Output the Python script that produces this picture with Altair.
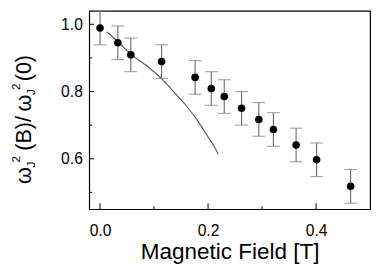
import altair as alt
import pandas as pd

# measured data points
field_T = [0.0, 0.033, 0.057, 0.114, 0.176, 0.206, 0.230, 0.262, 0.294, 0.321, 0.363, 0.401, 0.464]
ratio = [0.989, 0.945, 0.909, 0.889, 0.842, 0.809, 0.785, 0.750, 0.717, 0.687, 0.641, 0.597, 0.518]
err = [0.05, 0.05, 0.05, 0.05, 0.05, 0.05, 0.05, 0.05, 0.05, 0.05, 0.05, 0.05, 0.05]

# theory curve
curve_T = [0.013, 0.035, 0.057, 0.085, 0.112, 0.136, 0.160, 0.180, 0.200, 0.212, 0.219]
curve_r = [0.977, 0.945, 0.911, 0.878, 0.841, 0.800, 0.757, 0.715, 0.665, 0.635, 0.613]

x_major = [0.0, 0.2, 0.4]
x_minor = [0.1, 0.3]
y_major = [0.6, 0.8, 1.0]
y_minor = [0.5, 0.7, 0.9]

W, H = 287, 202.7
FONT = "Liberation Sans"

pts = pd.DataFrame({"B": field_T, "r": ratio, "e": err})
pts["lo"] = pts["r"] - pts["e"]
pts["hi"] = pts["r"] + pts["e"]
crv = pd.DataFrame({"B": curve_T, "r": curve_r})

xs = alt.Scale(domain=[-0.02, 0.5], nice=False, zero=False)
ys = alt.Scale(domain=[0.45, 1.04], nice=False, zero=False)

xax = alt.Axis(values=x_major, format=".1f", ticks=False, tickSize=0, domain=False,
               grid=False, labelFontSize=16, labelFont=FONT, labelColor="black",
               labelPadding=14, title=None)
yax = alt.Axis(values=y_major, format=".1f", ticks=False, tickSize=0, domain=False,
               grid=False, labelFontSize=16, labelFont=FONT, labelColor="black",
               labelPadding=7, title=None)

base_x = alt.X("B:Q", scale=xs, axis=xax)
base_y = alt.Y("r:Q", scale=ys, axis=yax)

curve = alt.Chart(crv).mark_line(color="#555555", strokeWidth=1.1, interpolate="monotone").encode(
    x=base_x, y=base_y)

bars = alt.Chart(pts).mark_rule(color="#666666", strokeWidth=1.1).encode(
    x=alt.X("B:Q", scale=xs), y=alt.Y("lo:Q", scale=ys), y2="hi:Q")
cap_lo = alt.Chart(pts).mark_tick(color="#777777", orient="horizontal", size=13, thickness=1.1).encode(
    x=alt.X("B:Q", scale=xs), y=alt.Y("lo:Q", scale=ys))
cap_hi = alt.Chart(pts).mark_tick(color="#777777", orient="horizontal", size=13, thickness=1.1).encode(
    x=alt.X("B:Q", scale=xs), y=alt.Y("hi:Q", scale=ys))
dots = alt.Chart(pts).mark_circle(color="black", opacity=1, size=60).encode(
    x=alt.X("B:Q", scale=xs), y=alt.Y("r:Q", scale=ys))

def xticks(vals, ln):
    return alt.Chart(pd.DataFrame({"B": vals})).mark_rule(color="black", strokeWidth=1).encode(
        x=alt.X("B:Q", scale=xs), y=alt.value(H), y2=alt.value(H - ln))

def yticks(vals, ln):
    return alt.Chart(pd.DataFrame({"r": vals})).mark_rule(color="black", strokeWidth=1).encode(
        y=alt.Y("r:Q", scale=ys), x=alt.value(0), x2=alt.value(ln))

# titles as text pieces
x_title = alt.Chart(pd.DataFrame({"t": ["Magnetic Field [T]"]})).mark_text(
    font=FONT, fontSize=23, align="center", baseline="alphabetic", color="black").encode(
    text="t:N", x=alt.value(144), y=alt.value(253.7))

def ypiece(txt, ystart, xbase, size):
    return alt.Chart(pd.DataFrame({"t": [txt]})).mark_text(
        font=FONT, fontSize=size, align="left", baseline="alphabetic", angle=270, color="black").encode(
        text="t:N", x=alt.value(xbase), y=alt.value(ystart))

main_x = -60
sub_x = -55.5
sup_x = -71
y_title = [
    ypiece("\u03c9", 185 - 8, main_x, 22),
    ypiece("J", 168 - 8, sub_x, 12),
    ypiece("2", 163 - 8, sup_x, 12),
    ypiece("(B)/", 151 - 8, main_x, 22),
    ypiece("\u03c9", 111 - 8, main_x, 22),
    ypiece("J", 94 - 8, sub_x, 12),
    ypiece("2", 89 - 8, sup_x, 12),
    ypiece("(0)", 80 - 8, main_x, 22),
]

chart = alt.layer(
    curve, bars, cap_lo, cap_hi, dots,
    xticks(x_major, 6), xticks(x_minor, 3), yticks(y_major, 5), yticks(y_minor, 3),
    x_title, *y_title
).properties(
    width=W, height=H,
    autosize=alt.AutoSizeParams(type="none"),
    padding={"left": 83, "top": 0, "right": 4, "bottom": 62},
).configure_view(stroke="black", strokeWidth=1.2)

chart.save("out.html", embed_options={"renderer": "svg", "actions": False})
